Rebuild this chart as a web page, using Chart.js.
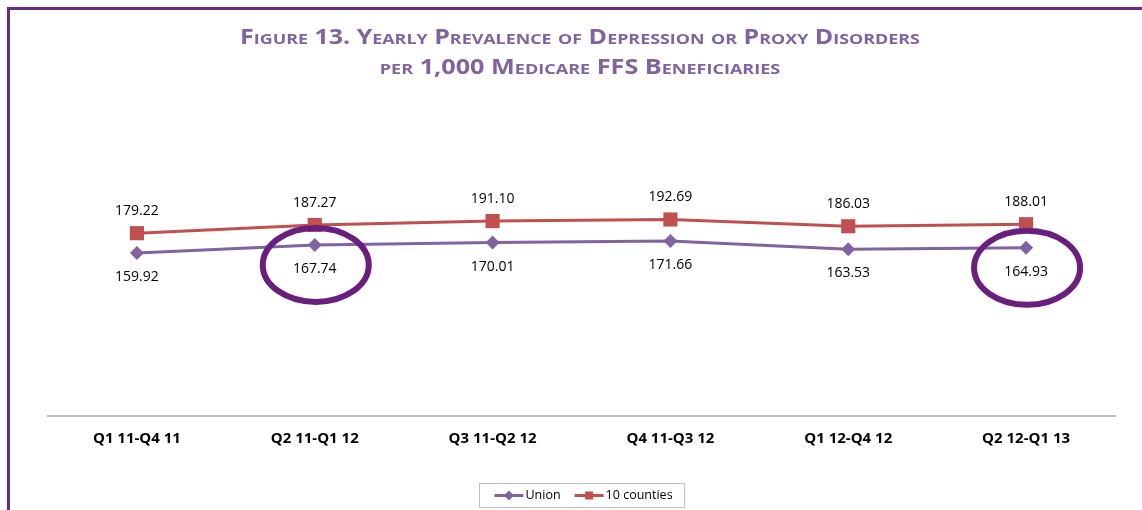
<!DOCTYPE html>
<html>
<head>
<meta charset="utf-8">
<script src="https://cdn.jsdelivr.net/npm/chart.js@4.4.1/dist/chart.umd.min.js"></script>
<style>
  body { margin: 0; background: #fff; }
  #wrap { position: relative; width: 1142px; height: 510px; overflow: hidden; }
  #frame { position: absolute; left: 7px; top: 7px; width: 1200px; height: 600px;
           border-top: 3px solid #6b2a85; border-left: 3px solid #6b2a85; }
  .title { position: absolute; left: 580px; white-space: nowrap;
           font-family: "Open Sans", sans-serif; font-weight: bold; font-variant: small-caps;
           color: #8064a2; font-size: 21px; line-height: 21px; }
  canvas { position: absolute; left: 0; top: 0; }
</style>
</head>
<body>
<div id="wrap">
  <div id="frame"></div>
  <canvas id="prevalence" width="1142" height="510"></canvas>
  <div class="title" style="top:26px;">Figure 13. Yearly Prevalence of Depression or Proxy Disorders</div>
  <div class="title" style="top:56px;">per 1,000 Medicare FFS Beneficiaries</div>
</div>
<script>
// données
const categories = ['Q1 11-Q4 11', 'Q2 11-Q1 12', 'Q3 11-Q2 12', 'Q4 11-Q3 12', 'Q1 12-Q4 12', 'Q2 12-Q1 13'];
const unionValues = [159.92, 167.74, 170.01, 171.66, 163.53, 164.93];
const countiesValues = [179.22, 187.27, 191.10, 192.69, 186.03, 188.01];
const circledPoints = [1, 5];   // points de Union entourés

// largeur du titre : on resserre la police pour retrouver la largeur d'origine
document.querySelectorAll('.title').forEach(function(el, i) {
  const target = [680, 400][i];
  el.style.transform = 'translateX(-50%) scaleX(' + (target / el.offsetWidth).toFixed(3) + ')';
});

const labelFont = '14px "Open Sans", sans-serif';

// étiquettes de valeurs (au-dessus pour 10 counties, en dessous pour Union)
const valueLabels = {
  id: 'valueLabels',
  afterDatasetsDraw(chart) {
    const ctx = chart.ctx;
    ctx.save();
    ctx.font = labelFont;
    ctx.fillStyle = '#000';
    ctx.textAlign = 'center';
    ctx.textBaseline = 'middle';
    chart.data.datasets.forEach(function(ds, i) {
      const meta = chart.getDatasetMeta(i);
      meta.data.forEach(function(pt, j) {
        ctx.fillText(ds.data[j].toFixed(2), pt.x, pt.y + ds.labelOffset);
      });
    });
    ctx.restore();
  }
};

// ellipses autour de certains points
const circles = {
  id: 'circles',
  afterDraw(chart) {
    const ctx = chart.ctx;
    const meta = chart.getDatasetMeta(0);
    ctx.save();
    ctx.strokeStyle = '#6a1e7e';
    ctx.lineWidth = 6;
    for (let k = 0; k < circledPoints.length; k++) {
      const pt = meta.data[circledPoints[k]];
      ctx.beginPath();
      ctx.ellipse(pt.x + 1, pt.y + 20, 53, 37, 0, 0, Math.PI * 2);
      ctx.stroke();
    }
    ctx.restore();
  }
};

// légende avec trait + marqueur, dans un cadre
const boxLegend = {
  id: 'boxLegend',
  afterDraw(chart) {
    const ctx = chart.ctx;
    const area = chart.chartArea;
    const lineLen = 29, gap = 2, itemGap = 14, padL = 15, padR = 12;
    ctx.save();
    ctx.font = '12.5px "Open Sans", sans-serif';
    let total = padL + padR;
    chart.data.datasets.forEach(function(ds, i) {
      total += lineLen + gap + ctx.measureText(ds.label).width + (i > 0 ? itemGap : 0);
    });
    let x = Math.round((area.left + area.right) / 2 - total / 2) + 0.5;
    const top = 483.5, h = 24, cy = top + h / 2;
    ctx.strokeStyle = '#bfbfbf';
    ctx.lineWidth = 1;
    ctx.strokeRect(x, top, total, h);
    x += padL;
    chart.data.datasets.forEach(function(ds, i) {
      if (i > 0) x += itemGap;
      ctx.strokeStyle = ds.borderColor;
      ctx.lineWidth = 3;
      ctx.beginPath();
      ctx.moveTo(x, cy);
      ctx.lineTo(x + lineLen, cy);
      ctx.stroke();
      ctx.fillStyle = ds.backgroundColor;
      const mx = x + lineLen / 2;
      ctx.beginPath();
      if (ds.pointStyle === 'rect') {
        ctx.rect(mx - 4, cy - 4, 8, 8);
      } else {
        ctx.moveTo(mx, cy - 5);
        ctx.lineTo(mx + 5, cy);
        ctx.lineTo(mx, cy + 5);
        ctx.lineTo(mx - 5, cy);
        ctx.closePath();
      }
      ctx.fill();
      x += lineLen + gap;
      ctx.fillStyle = '#000';
      ctx.textBaseline = 'middle';
      ctx.fillText(ds.label, x, cy);
      x += ctx.measureText(ds.label).width;
    });
    ctx.restore();
  }
};

const data_prevalence = {
  labels: categories,
  datasets: [{
    label: 'Union',
    data: unionValues,
    borderColor: '#8064a2',
    backgroundColor: '#8064a2',
    borderWidth: 3,
    pointStyle: 'rectRot',
    pointRadius: 7,
    pointBorderWidth: 0,
    labelOffset: 24
  },
  {
    label: '10 counties',
    data: countiesValues,
    borderColor: '#c0504d',
    backgroundColor: '#c0504d',
    borderWidth: 3,
    pointStyle: 'rect',
    pointRadius: 10,
    pointBorderWidth: 0,
    labelOffset: -22
  }]
};

const config_prevalence = {
  type: 'line',
  data: data_prevalence,
  options: {
    responsive: false,
    animation: false,
    layout: { padding: { left: 48, right: 27, top: 161, bottom: 56 } },
    plugins: {
      legend: { display: false },
      title: { display: false },
      tooltip: { enabled: false }
    },
    scales: {
      x: {
        offset: true,
        grid: { display: false, offset: true },
        border: { display: true, color: '#bfbfbf', width: 2 },
        ticks: {
          padding: 6,
          color: '#000',
          font: { family: '"Open Sans", sans-serif', size: 15, weight: 'bold' }
        }
      },
      y: {
        display: false,
        min: 0,
        max: 250
      }
    }
  },
  plugins: [valueLabels, circles, boxLegend]
};

const prevalence_Chart = new Chart(
  document.getElementById('prevalence'),
  config_prevalence
);
</script>
</body>
</html>
